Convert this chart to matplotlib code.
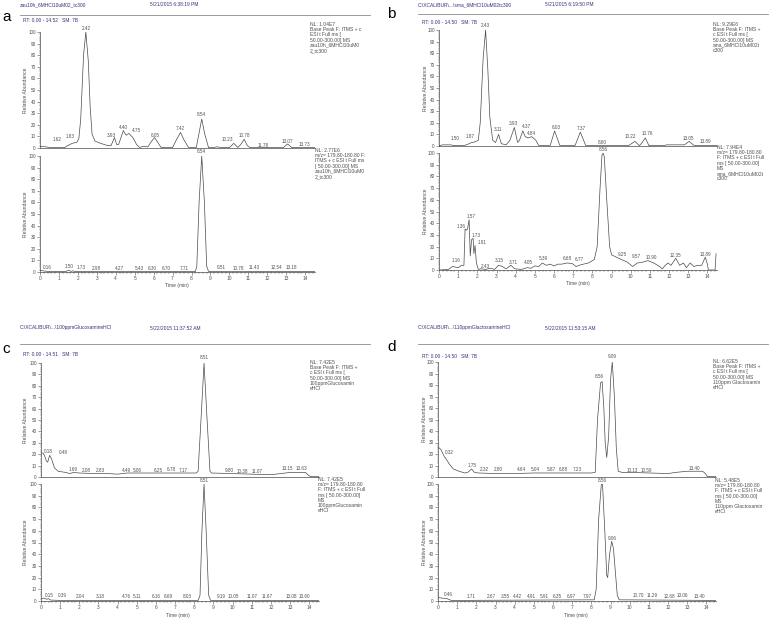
import matplotlib
matplotlib.use("Agg")
import matplotlib.pyplot as plt
from matplotlib.lines import Line2D
from matplotlib.ticker import MultipleLocator

plt.rcParams['font.family'] = ['Liberation Sans', 'DejaVu Sans']

W, H = 771, 620
LINE = '#4a4a4a'
TXT = '#505050'
NAVY = '#33337a'

# ---- panel a: base peak (top) and m/z 180 (bottom) ----
a_top_t = [0, 0.3, 0.6, 1.3, 1.45, 1.7, 1.95, 2.05, 2.15, 2.3, 2.42, 2.55, 2.65, 2.75, 2.9, 3.2,
           3.6, 3.75, 3.93, 4.05, 4.15, 4.4, 4.55, 4.7, 4.9, 5.1, 5.25, 5.5, 5.7, 5.85, 6.05, 6.25,
           6.4, 7.0, 7.2, 7.42, 7.6, 7.85, 8.25, 8.4, 8.54, 8.7, 8.9, 9.2, 9.35, 9.6, 10.0, 10.23,
           10.45, 10.6, 10.78, 10.95, 11.1, 12.85, 13.07, 13.3, 14.52]
a_top_y = [1.5, 1, 0.3, 0.3, 2, 4, 5, 8, 25, 80, 100, 75, 35, 12, 6, 4,
           2, 2, 9, 3, 3, 15, 11, 12.5, 9, 3, 0.5, 1.5, 1, 5, 9, 4,
           0.3, 0.3, 7, 13.5, 7, 0.3, 0.3, 13, 25, 12, 0.3, 0.5, 1, 0.3, 0.3, 4,
           0.5, 3, 7.5, 2, 0.3, 0.3, 3.5, 0.3, 0.3]
a_top_lbl = ["1.62", "1.83", "2.42", "3.93", "4.40", "4.75", "6.05", "7.42", "8.54", "10.23",
             "10.78", "11.78", "13.07", "13.73"]
a_top_lx = [0.91, 1.58, 2.43, 3.75, 4.40, 5.11, 6.07, 7.43, 8.54, 9.91, 10.79, 11.80, 13.06, 13.95]
a_top_ly = [7.5, 9.8, 103.2, 10.9, 18.1, 15.2, 11.2, 16.7, 29.3, 6.9, 10.9, 2.3, 5.8, 2.9]

a_bot_t = [0, 0.16, 0.5, 1.35, 1.5, 1.65, 1.73, 1.9, 8.2, 8.28, 8.4, 8.54, 8.68, 8.8, 8.9, 14.52]
a_bot_y = [1.5, 1, 0.3, 0.3, 1.5, 0.5, 1, 0.3, 0.3, 5, 60, 100, 60, 5, 0.5, 0.3]
a_bot_lbl = ["0.16", "1.50", "1.73", "2.98", "4.27", "5.43", "6.30", "6.70", "7.71", "8.54",
             "9.51", "10.78", "11.43", "12.54", "13.18"]
a_bot_lx = [0.41, 1.55, 2.20, 2.99, 4.17, 5.25, 5.95, 6.66, 7.62, 8.54, 9.58, 10.48, 11.30, 12.47, 13.30]
a_bot_ly = [3.7, 4.6, 3.7, 3.2, 3.2, 3.2, 3.2, 3.2, 3.2, 103.7, 3.7, 3.2, 3.7, 3.7, 3.7]

# ---- panel b ----
b_top_t = [0, 0.2, 0.6, 0.8, 1.3, 1.5, 1.7, 1.87, 2.05, 2.15, 2.3, 2.43, 2.55, 2.65, 2.8, 2.95,
           3.11, 3.25, 3.5, 3.7, 3.93, 4.1, 4.2, 4.37, 4.5, 4.65, 4.84, 5.05, 5.2, 5.8, 6.03, 6.3,
           7.1, 7.37, 7.65, 9.9, 10.22, 10.45, 10.55, 10.76, 10.95, 11.8, 11.85, 12.8, 13.05,
           13.3, 14.5]
b_top_y = [0.3, 1, 1, 0.3, 0.3, 1.5, 3, 3.5, 5, 20, 75, 100, 65, 25, 5, 3,
           10, 2, 1, 5, 16, 3, 5, 13, 8, 7, 8, 5, 0.5, 0.5, 13, 0.5,
           0.5, 12, 0.5, 0.5, 4, 0.3, 2, 7, 0.3, 0.5, 1, 1, 4,
           0.5, 0.5]
b_top_lbl = ["1.50", "1.87", "2.43", "3.11", "3.93", "4.37", "4.84", "6.03", "7.37", "8.60",
             "10.22", "10.76", "13.05", "13.89"]
b_top_lx = [0.84, 1.62, 2.40, 3.10, 3.88, 4.58, 4.84, 6.10, 7.42, 8.50, 9.98, 10.85, 13.03, 13.90]
b_top_ly = [6.6, 8.0, 104, 13.8, 19.5, 16.6, 10.9, 16.1, 15.2, 3.2, 8.0, 10.9, 6.6, 3.7]

b_bot_t = [0, 0.5, 0.7, 1.0, 1.18, 1.3, 1.36, 1.45, 1.5, 1.57, 1.63, 1.7, 1.78, 1.82, 1.88, 1.95,
           2.05, 2.2, 2.43, 2.7, 2.9, 3.1, 3.3, 3.5, 3.75, 3.95, 4.3, 4.6, 4.8, 5.0, 5.2, 5.39,
           5.6, 5.8, 6.0, 6.2, 6.4, 6.68, 6.95, 7.15, 7.4, 7.8, 8.1, 8.25, 8.4, 8.5, 8.56, 8.62,
           8.75, 8.9, 9.0, 9.25, 9.5, 9.8, 10.1, 10.35, 10.57, 10.9, 11.2, 11.5, 11.65, 11.8,
           11.95, 12.1, 12.35, 12.55, 12.75, 12.9, 13.1, 13.3, 13.5, 13.7, 13.89, 14.0, 14.05,
           14.4, 14.45]
b_bot_y = [0, 0.5, 3, 2, 4, 4, 35, 34, 36, 43, 12, 26, 27, 14, 21, 6,
           0.5, 1, 0.5, 1.5, 0.5, 4, 3, 1, 4, 1, 0.5, 2, 1.5, 3.5, 3, 6,
           4, 5, 3.5, 5, 5, 6, 5.5, 3, 4.5, 6, 9, 20, 70, 98, 100, 97,
           60, 20, 13, 11, 9, 7, 3, 6, 6.5, 8, 6, 3, 1, 4,
           6, 4, 10, 4, 6, 2, 6, 3, 4, 4, 11, 5, 0,
           0, 14]
b_bot_lbl = ["1.16", "1.36", "1.57", "1.73", "1.91", "2.43", "3.15", "3.71", "4.05", "5.39",
             "6.68", "6.77", "8.56", "9.25", "9.57", "10.90", "12.35", "13.89"]
b_bot_lx = [0.87, 1.15, 1.67, 1.93, 2.23, 2.40, 3.15, 3.85, 4.67, 5.42, 6.67, 7.31, 8.59, 9.58,
            10.28, 11.06, 12.33, 13.90]
b_bot_ly = [8, 37, 46, 29.3, 23.7, 3.4, 8.5, 6.6, 6.6, 10, 10, 9, 102.6, 13.4, 11.4, 11, 12.8, 13.4]

# ---- panel c ----
c_top_t = [0, 0.1, 0.18, 0.28, 0.35, 0.45, 0.55, 0.7, 0.9, 1.3, 1.5, 1.69, 2.0, 2.5, 3.5, 4.0,
           4.5, 5.5, 7.0, 8.1, 8.2, 8.35, 8.51, 8.67, 8.82, 8.9, 10.0, 11.0, 12.0, 12.5, 13.0,
           13.8, 14.0, 14.1, 14.51]
c_top_y = [21, 21, 19, 14, 13, 19, 16, 8, 5, 4, 3, 4, 3.5, 3.2, 3, 2.5,
           3.5, 3.5, 3.5, 3.5, 5, 50, 100, 50, 5, 3.5, 3, 2.5, 2, 3, 4,
           4, 1, 0.3, 0.3]
c_top_lbl = ["0.18", "0.48", "1.69", "2.08", "2.83", "4.49", "5.06", "6.25", "6.78", "7.17",
             "8.51", "9.80", "10.38", "11.07", "13.15", "13.63"]
c_top_lx = [0.38, 1.17, 1.69, 2.39, 3.08, 4.48, 5.03, 6.13, 6.78, 7.43, 8.52, 9.84, 10.52, 11.27,
            12.84, 13.62]
c_top_ly = [22.2, 21.3, 6.7, 6.1, 6.1, 6.1, 6.1, 6.1, 6.7, 6.1, 105, 5.5, 5, 4.5, 7.6, 7.6]

c_bot_t = [0, 0.15, 0.3, 0.39, 0.5, 1.0, 8.2, 8.3, 8.4, 8.51, 8.62, 8.75, 8.85, 14.51]
c_bot_y = [2, 2.5, 1.5, 2, 0.8, 0.5, 0.5, 5, 60, 100, 60, 5, 0.5, 0.3]
c_bot_lbl = ["0.15", "0.39", "2.04", "3.18", "4.76", "5.11", "6.16", "6.69", "8.03", "8.51",
             "9.19", "10.05", "11.07", "11.67", "13.08", "13.60"]
c_bot_lx = [0.44, 1.11, 2.04, 3.08, 4.48, 5.03, 6.01, 6.65, 7.64, 8.52, 9.40, 10.05, 11.04, 11.79,
            13.05, 13.76]
c_bot_ly = [4.8, 4.3, 4, 4, 4, 4, 4, 4, 4, 102.6, 4, 4, 4, 4, 4, 4]

# ---- panel d ----
d_top_t = [0, 0.15, 0.32, 0.45, 0.6, 0.8, 1.1, 1.4, 1.55, 1.75, 1.9, 2.1, 3.0, 4.0, 5.0, 8.0,
           8.2, 8.32, 8.48, 8.56, 8.65, 8.72, 8.8, 8.9, 9.0, 9.09, 9.2, 9.3, 9.4, 9.6, 10.0,
           11.0, 12.0, 12.4, 13.0, 13.8, 13.95, 14.05, 14.5]
d_top_y = [26, 24, 18, 15, 11, 7, 5, 3.5, 4, 7, 4, 3.5, 3, 3, 3.5, 3.5,
           4, 50, 82, 83, 60, 30, 17, 35, 85, 100, 70, 25, 5, 4, 4,
           3.5, 3, 4, 5, 5, 3, 0.3, 0.3]
d_top_lbl = ["0.32", "1.75", "2.32", "2.80", "4.64", "5.04", "5.87", "6.88", "7.23", "8.56",
             "9.09", "10.13", "10.59", "13.40"]
d_top_lx = [0.59, 1.76, 2.42, 3.12, 4.37, 5.07, 5.90, 6.55, 7.24, 8.43, 9.11, 10.12, 10.85, 13.39]
d_top_ly = [21.1, 9.6, 6.1, 6.1, 6.1, 6.1, 6.1, 6.1, 6.1, 87.8, 104.6, 5.5, 5.5, 7]

d_bot_t = [0, 0.2, 0.46, 0.7, 8.15, 8.25, 8.38, 8.52, 8.58, 8.7, 8.8, 8.85, 8.95, 9.06, 9.15,
           9.25, 9.35, 9.45, 14.5]
d_bot_y = [3, 2.5, 2, 0.5, 1, 10, 70, 100, 100, 60, 22, 20, 40, 51, 45, 25, 5, 1, 0.5]
d_bot_lbl = ["0.46", "1.71", "2.67", "3.55", "4.42", "4.91", "5.91", "6.35", "6.97", "7.97",
             "8.56", "9.06", "10.70", "11.29", "12.68", "13.06", "13.40"]
d_bot_lx = [0.54, 1.72, 2.77, 3.50, 4.14, 4.86, 5.55, 6.23, 6.93, 7.77, 8.55, 9.07, 10.43, 11.17,
            12.08, 12.74, 13.62]
d_bot_ly = [5.7, 4, 4, 4, 4, 4, 4, 4, 4, 4, 102.8, 53.6, 4.3, 4.3, 4, 4.3, 4]

fig = plt.figure(figsize=(W / 100, H / 100), dpi=100)


def px_axes(left, top, right, bottom):
    return fig.add_axes([left / W, 1 - bottom / H, (right - left) / W, (bottom - top) / H])


def ftext(x, y, s, **kw):
    return fig.text(x / W, 1 - y / H, s, **kw)


def chrom(ax, t, y, lbl, lx, ly, tmax, show_x):
    ax.plot(t, y, color=LINE, lw=0.5)
    for s, x, yy in zip(lbl, lx, ly):
        ax.text(x, yy, s, fontsize=3.3, color=TXT, ha='center', va='center')
    ax.set_xlim(0, tmax)
    ax.set_ylim(0, 100)
    for side in ['top', 'right']:
        ax.spines[side].set_visible(False)
    for side in ['left', 'bottom']:
        ax.spines[side].set_color(LINE)
        ax.spines[side].set_linewidth(0.5)
    ax.yaxis.set_major_locator(MultipleLocator(10))
    ax.yaxis.set_minor_locator(MultipleLocator(2))
    ax.tick_params(axis='y', which='major', length=2, width=0.4, pad=1, labelsize=3.3,
                   colors=TXT)
    ax.tick_params(axis='y', which='minor', length=1, width=0.3, colors=TXT)
    if show_x:
        ax.xaxis.set_major_locator(MultipleLocator(1))
        ax.xaxis.set_minor_locator(MultipleLocator(0.2))
        ax.tick_params(axis='x', which='major', length=2.2, width=0.4, pad=1, labelsize=3.5,
                       colors=TXT)
        ax.tick_params(axis='x', which='minor', length=1.2, width=0.3, colors=TXT)
    else:
        ax.set_xticks([])
    ax.patch.set_alpha(0)


def header(x, y, date_x, name, date, line_x1, line_y, letter, lx, ly, rt, rtx, rty):
    ftext(x, y, name, fontsize=3.5, color=NAVY, va='center')
    ftext(date_x, y, date, fontsize=3.5, color=NAVY, va='center')
    fig.add_artist(Line2D([x / W, line_x1 / W], [1 - line_y / H] * 2, color='#8a8a8a', lw=0.6))
    ftext(lx, ly, letter, fontsize=11, color='black', va='center')
    ftext(rtx, rty, rt, fontsize=3.5, color=NAVY, va='center')


nl_a_top = "NL: 1.04E7\nBase Peak F: ITMS + c\nESI t Full ms [\n50.00-300.00] MS\nzau10h_6MHCl10uM0\n2_tc300"
nl_a_bot = "NL: 2.77E6\nm/z= 179.80-180.80 F:\nITMS + c ESI t Full ms\n[ 50.00-300.00] MS\nzau10h_6MHCl10uM0\n2_tc300"
nl_b_top = "NL: 9.29E6\nBase Peak F: ITMS +\nc ESI t Full ms [\n50.00-300.00] MS\nsma_6MHCl10uM02t\nc300"
nl_b_bot = "NL: 7.94E4\nm/z= 179.80-180.80\nF: ITMS + c ESI t Full\nms [ 50.00-300.00]\nMS\nsma_6MHCl10uM02t\nc300"
nl_c_top = "NL: 7.42E5\nBase Peak F: ITMS +\nc ESI t Full ms [\n50.00-300.00] MS\n100ppmGlucosamin\neHCl"
nl_c_bot = "NL: 7.42E5\nm/z= 179.80-180.80\nF: ITMS + c ESI t Full\nms [ 50.00-300.00]\nMS\n100ppmGlucosamin\neHCl"
nl_d_top = "NL: 6.62E5\nBase Peak F: ITMS +\nc ESI t Full ms [\n50.00-300.00] MS\n110ppm Glactosamin\neHCl"
nl_d_bot = "NL: 5.48E5\nm/z= 179.80-180.80\nF: ITMS + c ESI t Full\nms [ 50.00-300.00]\nMS\n110ppm Glactosamin\neHCl"

panels = [
    dict(top=(40, 32, 315, 148), bot=(40, 156, 315, 272), tmax=14.52,
         td=(a_top_t, a_top_y, a_top_lbl, a_top_lx, a_top_ly),
         bd=(a_bot_t, a_bot_y, a_bot_lbl, a_bot_lx, a_bot_ly),
         nl=((310, 22, nl_a_top), (315, 148, nl_a_bot)), ylab=25, time=(177, 286)),
    dict(top=(439, 30, 717, 146), bot=(439, 153, 717, 270), tmax=14.50,
         td=(b_top_t, b_top_y, b_top_lbl, b_top_lx, b_top_ly),
         bd=(b_bot_t, b_bot_y, b_bot_lbl, b_bot_lx, b_bot_ly),
         nl=((713, 22, nl_b_top), (717, 145, nl_b_bot)), ylab=425, time=(578, 284)),
    dict(top=(41, 363, 319, 477), bot=(41, 484, 319, 601), tmax=14.51,
         td=(c_top_t, c_top_y, c_top_lbl, c_top_lx, c_top_ly),
         bd=(c_bot_t, c_bot_y, c_bot_lbl, c_bot_lx, c_bot_ly),
         nl=((310, 360, nl_c_top), (318, 477, nl_c_bot)), ylab=25, time=(178, 615)),
    dict(top=(438, 362, 716, 477), bot=(438, 484, 716, 601), tmax=14.50,
         td=(d_top_t, d_top_y, d_top_lbl, d_top_lx, d_top_ly),
         bd=(d_bot_t, d_bot_y, d_bot_lbl, d_bot_lx, d_bot_ly),
         nl=((713, 359, nl_d_top), (715, 478, nl_d_bot)), ylab=424, time=(576, 615)),
]

for p in panels:
    ax1 = px_axes(*p['top'])
    chrom(ax1, *p['td'], p['tmax'], False)
    ax2 = px_axes(*p['bot'])
    chrom(ax2, *p['bd'], p['tmax'], True)
    for x, y, s in p['nl']:
        ftext(x, y, s, fontsize=3.6, color=TXT, va='top', ha='left', linespacing=1.05)
    for rect in (p['top'], p['bot']):
        ftext(p['ylab'], (rect[1] + rect[3]) / 2, "Relative Abundance", fontsize=3.6,
              color=TXT, rotation=90, ha='center', va='center')
    ftext(p['time'][0], p['time'][1], "Time (min)", fontsize=3.6, color=TXT,
          ha='center', va='center')

header(20, 5, 150, "zau10h_6MHCl10uM02_tc300", "5/21/2015 6:38:19 PM", 370, 15,
       "a", 2, 17, "RT: 0.00 - 14.52   SM: 7B", 23, 21)
header(418, 5, 545, "C:\\XCALIBUR\\...\\sma_6MHCl10uM02tc300", "5/21/2015 6:19:50 PM", 768, 14,
       "b", 387, 14, "RT: 0.00 - 14.50   SM: 7B", 422, 23)
header(20, 328, 150, "C:\\XCALIBUR\\...\\100ppmGlucosamineHCl", "5/22/2015 11:37:52 AM", 370, 344,
       "c", 2, 349, "RT: 0.00 - 14.51   SM: 7B", 23, 354)
header(418, 328, 545, "C:\\XCALIBUR\\...\\110ppmGlactosamineHCl", "5/22/2015 11:53:15 AM", 768, 344,
       "d", 387, 347, "RT: 0.00 - 14.50   SM: 7B", 422, 356)

fig.savefig("out.png", dpi=100)
